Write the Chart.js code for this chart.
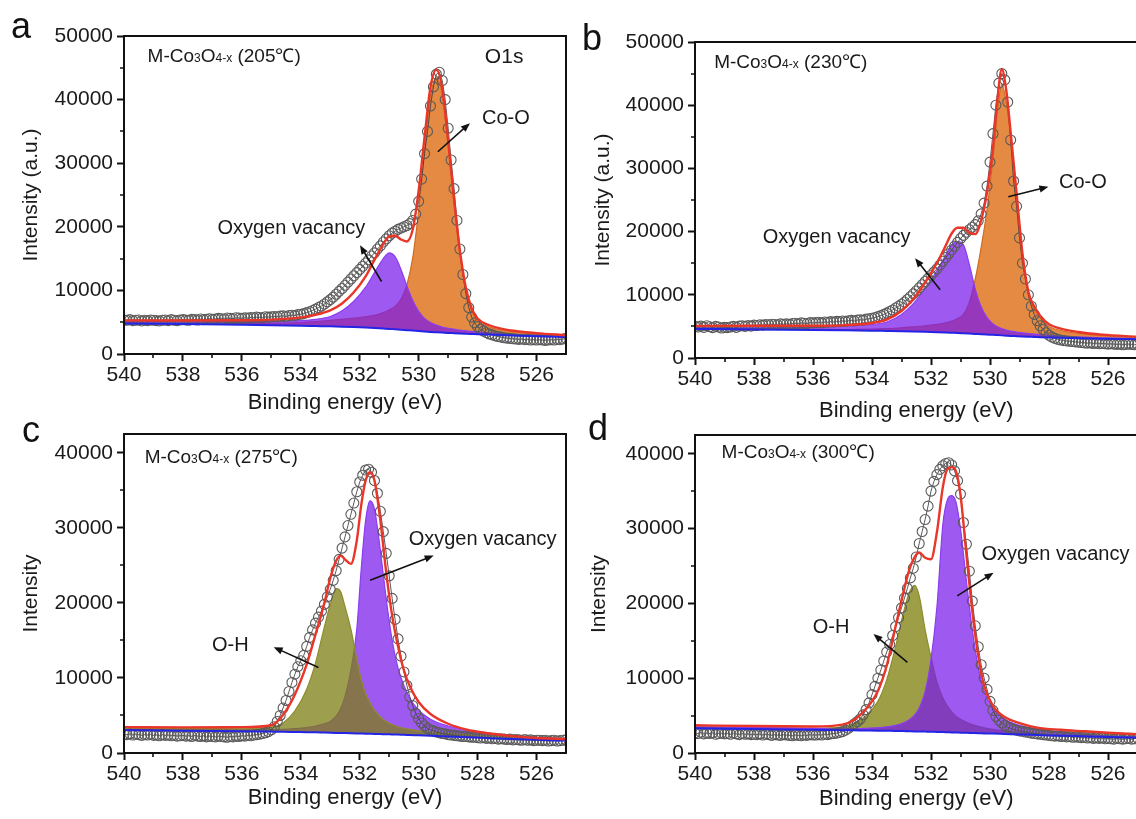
<!DOCTYPE html>
<html>
<head>
<meta charset="utf-8">
<script src="https://cdn.jsdelivr.net/npm/chart.js@4.4.1/dist/chart.umd.min.js"></script>
<style>
  html, body { margin: 0; padding: 0; background: #fff; width: 1136px; height: 819px; overflow: hidden; }
  canvas { position: absolute; }
</style>
</head>
<body>
<canvas id="panelA" width="568" height="416" style="left:0;top:0"></canvas>
<canvas id="panelB" width="572" height="424" style="left:568px;top:0"></canvas>
<canvas id="panelC" width="568" height="407" style="left:0;top:412px"></canvas>
<canvas id="panelD" width="572" height="407" style="left:568px;top:412px"></canvas>
<script>
const FONT = "'Liberation Sans', Arial, Helvetica, sans-serif";

// axis ticks shared by all four O1s panels
const xTicks = [540, 538, 536, 534, 532, 530, 528, 526];
const xMinor = [539, 537, 535, 533, 531, 529, 527];
const yTicks50k = [0, 10000, 20000, 30000, 40000, 50000];
const yMinor50k = [5000, 15000, 25000, 35000, 45000];
const yTicks40k = [0, 10000, 20000, 30000, 40000];
const yMinor40k = [5000, 15000, 25000, 35000];

// measured spectra are sampled every 0.1 eV from 540 down to 525 eV
const scanEnergy = [];
for (let i = 0; i <= 150; i++) scanEnergy.push(Math.round((540 - i * 0.1) * 10) / 10);

// ---- (a) 205 C ----
const fitEnergyA = [540, 538, 536, 535, 534, 533.5, 533, 532.6, 532.2, 531.8, 531.5, 531.2, 531.0, 530.8, 530.6, 530.4, 530.2, 530.0, 529.8, 529.6, 529.4, 529.2, 529.0, 528.8, 528.6, 528.4, 528.2, 528.0, 527.6, 527.2, 526.6, 526, 525];
const backgroundA = [4800, 4700, 4600, 4530, 4450, 4400, 4350, 4300, 4230, 4150, 4080, 4000, 3950, 3880, 3820, 3750, 3680, 3600, 3530, 3470, 3420, 3370, 3320, 3280, 3240, 3200, 3160, 3120, 3050, 2980, 2880, 2790, 2650];
const cooA = [4880, 4820, 4800, 4830, 4950, 5100, 5300, 5450, 5630, 5850, 6080, 6500, 6950, 7480, 8620, 10850, 15180, 22600, 32030, 40470, 43420, 40870, 32820, 23780, 15740, 10000, 6760, 5220, 4250, 3780, 3380, 3140, 2850];
const vacancyA = [5200, 5150, 5100, 5100, 5250, 5450, 5900, 6800, 8300, 10500, 12800, 15000, 15900, 15300, 13300, 10700, 8400, 6700, 5600, 4950, 4550, 4250, 4050, 3900, 3750, 3650, 3550, 3470, 3320, 3200, 3050, 2930, 2750];
const envelopeA = [5280, 5270, 5300, 5400, 5750, 6150, 6850, 7950, 9700, 12200, 14800, 17300, 18500, 18600, 18000, 17700, 19600, 25700, 34100, 41950, 44700, 41750, 33550, 24400, 16250, 10450, 7150, 5570, 4520, 4000, 3550, 3280, 2950];
const rawA = [
  5350, 5300, 5400, 5250, 5300, 5350, 5200, 5300, 5250, 5350, 5300,
  5250, 5200, 5300, 5350, 5250, 5400, 5300, 5250, 5350, 5400,
  5350, 5300, 5450, 5400, 5350, 5500, 5400, 5450, 5550, 5450,
  5500, 5600, 5550, 5500, 5650, 5600, 5550, 5700, 5650, 5600,
  5700, 5650, 5750, 5700, 5800, 5750, 5700, 5850, 5800, 5850,
  5900, 5850, 5950, 6000, 5900, 6050, 6100, 6050, 6200, 6250,
  6350, 6500, 6650, 6850, 7050, 7300, 7550, 7850, 8200, 8550,
  8950, 9400, 9850, 10300, 10800, 11300, 11800, 12300, 12800, 13300,
  13800, 14300, 14800, 15400, 15900, 16500, 17000, 17600, 18100, 18600,
  19000, 19300, 19600, 19800, 20000, 20200, 20500, 21000, 22000, 24000,
  27500, 31500, 35000, 39000, 42000, 44000, 44300, 43000, 40000, 35500,
  30500, 26000, 21000, 16500, 12500, 9500, 7300, 5800, 4900, 4300,
  3900, 3600, 3350, 3150, 3000, 2850, 2750, 2650, 2550, 2500,
  2450, 2400, 2350, 2300, 2350, 2250, 2300, 2200, 2250, 2200,
  2250, 2200, 2150, 2200, 2250, 2200, 2300, 2250, 2350, 2450
];

// ---- (b) 230 C ----
const fitEnergyB = [540, 538, 536, 535, 534, 533.5, 533, 532.6, 532.2, 531.8, 531.5, 531.3, 531.1, 530.9, 530.7, 530.5, 530.3, 530.1, 529.9, 529.75, 529.6, 529.45, 529.3, 529.1, 528.9, 528.7, 528.5, 528.3, 528.0, 527.6, 527.0, 526.2, 525];
const backgroundB = [4600, 4520, 4430, 4380, 4320, 4280, 4240, 4200, 4150, 4090, 4040, 4000, 3960, 3910, 3860, 3810, 3760, 3710, 3660, 3620, 3580, 3540, 3500, 3460, 3420, 3380, 3340, 3300, 3250, 3190, 3120, 3050, 2980];
const cooB = [4680, 4620, 4530, 4500, 4560, 4650, 4780, 4930, 5100, 5320, 5570, 5850, 6250, 6900, 8800, 12500, 17500, 23500, 31500, 38800, 43300, 40500, 35000, 25500, 16000, 10000, 7700, 6300, 5000, 4350, 3900, 3550, 3300];
const vacancyB = [5000, 5000, 5000, 5050, 5300, 5700, 6900, 8600, 11000, 13800, 16300, 17900, 18400, 17900, 14800, 10900, 8100, 6400, 5400, 4950, 4650, 4420, 4250, 4100, 3970, 3870, 3780, 3700, 3600, 3480, 3340, 3200, 3050];
const envelopeB = [5080, 5100, 5100, 5170, 5540, 6070, 7440, 9330, 11950, 15030, 17800, 19700, 20600, 20600, 19800, 19600, 21800, 26200, 33240, 40830, 45700, 42400, 35750, 26140, 16550, 10490, 8140, 6700, 5350, 4640, 4120, 3700, 3370];
const rawB = [
  5000, 4900, 5050, 4850, 5100, 4950, 4800, 5000, 4900, 4750, 4850,
  4800, 4900, 5000, 4850, 5050, 5100, 5000, 5150, 5050, 5200,
  5150, 5250, 5200, 5300, 5250, 5350, 5300, 5250, 5400, 5350,
  5400, 5350, 5450, 5500, 5400, 5550, 5500, 5450, 5600, 5550,
  5600, 5650, 5550, 5700, 5650, 5750, 5700, 5800, 5750, 5850,
  5800, 5900, 5950, 5850, 6000, 6050, 6000, 6150, 6200, 6300,
  6400, 6550, 6700, 6900, 7100, 7350, 7600, 7900, 8200, 8500,
  8850, 9250, 9700, 10150, 10600, 11100, 11600, 12100, 12600, 13100,
  13600, 14100, 14700, 15300, 15900, 16500, 17100, 17700, 18300, 18900,
  19400, 19900, 20300, 20700, 21100, 21700, 22800, 24500, 27200, 31000,
  35500, 40000, 43500, 45000, 44000, 40500, 34500, 28000, 24000, 19000,
  15000, 12500, 10000, 8200, 6900, 5900, 5100, 4500, 4000, 3600,
  3300, 3100, 2950, 2850, 2750, 2700, 2650, 2600, 2550, 2500,
  2450, 2400, 2350, 2400, 2300, 2350, 2250, 2300, 2250, 2200,
  2250, 2200, 2150, 2200, 2100, 2150, 2200, 2150, 2100, 2150
];

// ---- (c) 275 C ----
const fitEnergyC = [540, 538, 536, 535, 534.6, 534.2, 533.8, 533.5, 533.2, 533.0, 532.8, 532.65, 532.5, 532.3, 532.1, 531.95, 531.8, 531.65, 531.5, 531.3, 531.1, 530.9, 530.7, 530.5, 530.3, 530.0, 529.6, 529.0, 528.4, 527.6, 526.8, 526, 525];
const backgroundC = [3050, 2980, 2900, 2850, 2830, 2800, 2770, 2750, 2720, 2700, 2680, 2665, 2650, 2630, 2610, 2595, 2580, 2560, 2540, 2520, 2500, 2470, 2450, 2420, 2400, 2350, 2300, 2200, 2100, 1980, 1860, 1750, 1650];
const hydroxylC = [3300, 3250, 3300, 3450, 4000, 5600, 8500, 12000, 16800, 19800, 21900, 21500, 19500, 16500, 12500, 9800, 7900, 6700, 5700, 4800, 4200, 3800, 3500, 3300, 3150, 2950, 2800, 2600, 2450, 2280, 2130, 2000, 1870];
const vacancyC = [3200, 3150, 3100, 3100, 3150, 3250, 3400, 3600, 3900, 4200, 4900, 5900, 7500, 11000, 16500, 24500, 31000, 33600, 32500, 27000, 20500, 15000, 11300, 9000, 7300, 5700, 4500, 3600, 3100, 2650, 2300, 2050, 1850];
const envelopeC = [3450, 3420, 3450, 3700, 5100, 7800, 11800, 15800, 20000, 23300, 25600, 26300, 25800, 25200, 28300, 33000, 36300, 37400, 36300, 31000, 24000, 18300, 14200, 11000, 8900, 6800, 5200, 3900, 3150, 2600, 2250, 2000, 1870];
const rawC = [
  2500, 2450, 2550, 2400, 2500, 2450, 2350, 2450, 2400, 2500, 2350,
  2400, 2300, 2450, 2350, 2400, 2300, 2350, 2250, 2300, 2350,
  2250, 2300, 2200, 2350, 2250, 2200, 2300, 2150, 2250, 2200,
  2150, 2250, 2200, 2150, 2100, 2200, 2150, 2250, 2200, 2300,
  2250, 2350, 2300, 2400, 2450, 2500, 2600, 2700, 2850, 3100,
  3500, 4200, 5000, 6000, 7000, 8200, 9400, 10500, 11500, 12300,
  13000, 14200, 15400, 16400, 17300, 18100, 18900, 19800, 20800, 21800,
  23000, 24300, 25800, 27300, 28800, 30300, 31800, 33300, 34800, 36100,
  37000, 37700, 37800, 37400, 36300, 34600, 32200, 29500, 26600, 23600,
  20600, 17800, 15200, 12900, 10800, 9000, 7500, 6300, 5300, 4600,
  4000, 3600, 3300, 3100, 2950, 2800, 2700, 2600, 2550, 2450,
  2400, 2350, 2300, 2250, 2200, 2200, 2150, 2100, 2100, 2050,
  2000, 2050, 1950, 2000, 1900, 1950, 1850, 1900, 1850, 1800,
  1850, 1750, 1800, 1750, 1700, 1800, 1700, 1750, 1650, 1700,
  1700, 1650, 1700, 1600, 1650, 1700, 1600, 1650, 1700, 1750
];

// ---- (d) 300 C ----
const fitEnergyD = [540, 538, 536, 535, 534.6, 534.2, 533.8, 533.5, 533.2, 532.95, 532.75, 532.55, 532.4, 532.2, 532.0, 531.8, 531.6, 531.45, 531.3, 531.15, 531.0, 530.8, 530.6, 530.4, 530.2, 529.9, 529.5, 529.0, 528.4, 527.6, 526.8, 526, 525];
const backgroundD = [3300, 3200, 3100, 3050, 3030, 3010, 2990, 2970, 2950, 2930, 2910, 2890, 2880, 2860, 2840, 2810, 2790, 2770, 2750, 2730, 2720, 2690, 2670, 2650, 2620, 2590, 2540, 2480, 2400, 2300, 2220, 2150, 2050];
const hydroxylD = [3450, 3350, 3300, 3500, 4000, 5000, 6900, 9800, 14200, 18500, 21300, 22400, 21000, 16500, 12800, 9500, 7400, 6300, 5500, 4900, 4500, 4100, 3800, 3550, 3350, 3150, 2950, 2750, 2600, 2430, 2320, 2230, 2130];
const vacancyD = [3500, 3400, 3300, 3250, 3260, 3300, 3380, 3500, 3700, 4000, 4400, 5100, 6000, 8200, 12500, 19500, 30500, 33800, 34400, 33500, 30000, 23000, 16500, 11500, 8300, 6000, 4500, 3700, 3200, 2800, 2500, 2300, 2150];
const envelopeD = [3700, 3600, 3550, 3800, 4450, 5900, 8300, 11700, 16900, 21200, 24300, 26200, 26800, 26100, 25900, 29500, 35500, 37900, 38200, 37600, 34500, 26500, 19000, 13000, 9000, 6300, 4800, 4000, 3400, 3100, 2900, 2700, 2500];
const rawD = [
  2700, 2600, 2750, 2550, 2650, 2600, 2700, 2500, 2600, 2650, 2550,
  2600, 2500, 2650, 2550, 2450, 2600, 2500, 2550, 2450, 2500,
  2450, 2550, 2400, 2500, 2450, 2350, 2450, 2400, 2350, 2450,
  2400, 2350, 2300, 2400, 2350, 2300, 2400, 2350, 2450, 2400,
  2400, 2450, 2400, 2500, 2450, 2550, 2600, 2650, 2750, 2850,
  3050, 3300, 3600, 3900, 4200, 4550, 5100, 5800, 6700, 7800,
  8900, 10000, 11100, 12300, 13500, 14500, 15700, 16900, 18100, 19400,
  20700, 22000, 23400, 24700, 26200, 28000, 29600, 31200, 33000, 35000,
  36300, 37200, 37900, 38400, 38700, 38800, 38500, 37700, 36400, 34600,
  30800, 27900, 24300, 20300, 17000, 14200, 11800, 10000, 8500, 6900,
  5700, 4900, 4400, 4000, 3700, 3450, 3300, 3150, 3050, 2950,
  2900, 2800, 2750, 2650, 2600, 2550, 2500, 2450, 2400, 2350,
  2300, 2250, 2300, 2200, 2250, 2150, 2200, 2100, 2150, 2100,
  2050, 2100, 2000, 2050, 1950, 2000, 1950, 2000, 1900, 1950,
  1900, 1850, 1950, 1900, 1850, 1900, 1950, 1850, 1900, 2000
];

const ORANGE = { fill: 'rgba(226,125,45,0.9)', line: '#d06c22' };
const PURPLE = { fill: 'rgba(120,25,235,0.72)', line: '#8a3df2' };
const OLIVE_TOP = { fill: 'rgba(125,125,20,0.75)', line: '#8c8c2c' };
const OLIVE = { fill: 'rgba(150,150,55,0.92)', line: '#8c8c2c' };

function drawArrow(ctx, x1, y1, x2, y2) {
  const ang = Math.atan2(y2 - y1, x2 - x1);
  const head = 9, half = 3.6;
  ctx.save();
  ctx.strokeStyle = '#111';
  ctx.fillStyle = '#111';
  ctx.lineWidth = 1.6;
  ctx.beginPath();
  ctx.moveTo(x1, y1);
  ctx.lineTo(x2 - Math.cos(ang) * head * 0.8, y2 - Math.sin(ang) * head * 0.8);
  ctx.stroke();
  ctx.beginPath();
  ctx.moveTo(x2, y2);
  ctx.lineTo(x2 - head * Math.cos(ang) + half * Math.sin(ang), y2 - head * Math.sin(ang) - half * Math.cos(ang));
  ctx.lineTo(x2 - head * Math.cos(ang) - half * Math.sin(ang), y2 - head * Math.sin(ang) + half * Math.cos(ang));
  ctx.closePath();
  ctx.fill();
  ctx.restore();
}

// sample name with sub-scripted stoichiometry, e.g. M-Co3O4-x (205 C)
function drawSample(ctx, x, y, temp) {
  const parts = [['M-Co', 19, 0], ['3', 12, 2], ['O', 19, 0], ['4-x', 12, 2], [' (' + temp + '\u2103)', 19, 0]];
  ctx.save();
  ctx.fillStyle = '#1a1a1a';
  ctx.textBaseline = 'middle';
  ctx.textAlign = 'left';
  for (const [txt, size, dy] of parts) {
    ctx.font = size + 'px ' + FONT;
    ctx.fillText(txt, x, y + dy);
    x += ctx.measureText(txt).width;
  }
  ctx.restore();
}

function decorations(p) {
  return {
    id: 'decor',
    afterDraw(chart) {
      const { ctx, chartArea: a, scales: { x, y } } = chart;
      ctx.save();
      // box frame and minor ticks
      ctx.strokeStyle = '#111';
      ctx.lineWidth = 2;
      ctx.strokeRect(a.left, a.top, a.right - a.left, a.bottom - a.top);
      ctx.lineWidth = 1.6;
      ctx.beginPath();
      xMinor.forEach(e => {
        const px = Math.round(x.getPixelForValue(e));
        ctx.moveTo(px, a.bottom);
        ctx.lineTo(px, a.bottom + 4);
      });
      p.yMinor.forEach(v => {
        const py = Math.round(y.getPixelForValue(v));
        ctx.moveTo(a.left, py);
        ctx.lineTo(a.left - 4, py);
      });
      ctx.stroke();

      // panel letter
      ctx.fillStyle = '#111';
      ctx.font = '36px ' + FONT;
      ctx.textAlign = 'left';
      ctx.textBaseline = 'alphabetic';
      ctx.fillText(p.letter, p.letterPos[0], p.letterPos[1]);

      drawSample(ctx, x.getPixelForValue(p.sample[0]), y.getPixelForValue(p.sample[1]), p.sample[2]);

      ctx.fillStyle = '#1a1a1a';
      ctx.textBaseline = 'middle';
      p.labels.forEach(l => {
        ctx.font = (l.size || 20) + 'px ' + FONT;
        ctx.textAlign = l.align;
        ctx.fillText(l.text, x.getPixelForValue(l.at[0]), y.getPixelForValue(l.at[1]));
      });
      p.arrows.forEach(([from, to]) => {
        drawArrow(ctx, x.getPixelForValue(from[0]), y.getPixelForValue(from[1]),
          x.getPixelForValue(to[0]), y.getPixelForValue(to[1]));
      });
      ctx.restore();
    }
  };
}

function makePanel(id, p) {
  const pts = (es, vs) => es.map((e, i) => ({ x: e, y: vs[i] }));
  const datasets = [
    { label: 'Envelope', data: pts(p.fitE, p.envelope), borderColor: '#ea3529', borderWidth: 2.4,
      pointRadius: 0, fill: false, cubicInterpolationMode: 'monotone', order: 0 },
    { label: 'Background', data: pts(p.fitE, p.background), borderColor: '#2424e6', borderWidth: 2,
      pointRadius: 0, fill: false, cubicInterpolationMode: 'monotone', order: 1 },
    { label: 'Raw', data: pts(scanEnergy, p.raw), borderColor: 'rgba(60,60,60,0.85)', borderWidth: 1,
      pointRadius: 5, pointBorderWidth: 1.1, pointBorderColor: '#5a5a5a',
      pointBackgroundColor: 'rgba(255,255,255,0)', fill: false, tension: 0, order: 2 }
  ];
  p.peaks.forEach(pk => datasets.push({
    label: pk.name, data: pts(p.fitE, pk.values), borderColor: pk.style.line, borderWidth: 1.2,
    backgroundColor: pk.style.fill, fill: 1, pointRadius: 0, cubicInterpolationMode: 'monotone', order: pk.order
  }));

  const tickFont = { family: FONT, size: 21 };
  return new Chart(document.getElementById(id), {
    type: 'line',
    data: { datasets },
    options: {
      responsive: false,
      animation: false,
      devicePixelRatio: 1,
      events: [],
      layout: { autoPadding: false, padding: { left: 0, top: p.padTop, right: p.padRight, bottom: 0 } },
      plugins: { legend: { display: false }, tooltip: { enabled: false } },
      scales: {
        x: {
          type: 'linear', reverse: true, min: 525, max: 540,
          afterBuildTicks: s => { s.ticks = xTicks.map(v => ({ value: v })); },
          afterFit: s => { s.height = p.xHeight; },
          border: { display: false },
          grid: { drawOnChartArea: false, drawTicks: true, tickLength: 7, tickWidth: 2, tickColor: '#111' },
          ticks: { font: tickFont, color: '#1a1a1a', padding: 2, maxRotation: 0, autoSkip: false, callback: v => String(v) },
          title: { display: true, text: 'Binding energy (eV)', color: '#1a1a1a',
                   font: { family: FONT, size: 22 }, padding: { top: 0, bottom: p.xTitlePad } }
        },
        y: {
          type: 'linear', min: 0, max: p.yMax,
          afterBuildTicks: s => { s.ticks = p.yTicks.map(v => ({ value: v })); },
          afterFit: s => { s.width = p.yWidth; },
          border: { display: false },
          grid: { drawOnChartArea: false, drawTicks: true, tickLength: 7, tickWidth: 2, tickColor: '#111' },
          ticks: { font: tickFont, color: '#1a1a1a', padding: 4, autoSkip: false, callback: v => String(v) },
          title: { display: true, text: p.yTitle, color: '#1a1a1a',
                   font: { family: FONT, size: 21 }, padding: { top: p.yTitlePad, bottom: 0 } }
        }
      }
    },
    plugins: [decorations(p)]
  });
}

makePanel('panelA', {
  fitE: fitEnergyA, background: backgroundA, envelope: envelopeA, raw: rawA,
  peaks: [
    { name: 'Co-O', values: cooA, style: ORANGE, order: 4 },
    { name: 'Oxygen vacancy', values: vacancyA, style: PURPLE, order: 3 }
  ],
  yMax: 50000, yTicks: yTicks50k, yMinor: yMinor50k,
  padTop: 36, padRight: 2, yWidth: 124, xHeight: 62, xTitlePad: 0, yTitlePad: 19,
  yTitle: 'Intensity (a.u.)', letter: 'a', letterPos: [11, 38],
  sample: [539.2, 46700, '205'],
  labels: [
    { text: 'O1s', at: [527.1, 46700], align: 'center', size: 21 },
    { text: 'Co-O', at: [527.85, 37100], align: 'left' },
    { text: 'Oxygen vacancy', at: [534.32, 19800], align: 'center' }
  ],
  arrows: [[[529.35, 31800], [528.26, 36300]], [[531.26, 11400], [531.99, 17100]]]
});

makePanel('panelB', {
  fitE: fitEnergyB, background: backgroundB, envelope: envelopeB, raw: rawB,
  peaks: [
    { name: 'Co-O', values: cooB, style: ORANGE, order: 4 },
    { name: 'Oxygen vacancy', values: vacancyB, style: PURPLE, order: 3 }
  ],
  yMax: 50000, yTicks: yTicks50k, yMinor: yMinor50k,
  padTop: 42, padRight: 2.5, yWidth: 127, xHeight: 66, xTitlePad: 0, yTitlePad: 23,
  yTitle: 'Intensity (a.u.)', letter: 'b', letterPos: [14, 50],
  sample: [539.35, 46700, '230'],
  labels: [
    { text: 'Co-O', at: [527.66, 27800], align: 'left' },
    { text: 'Oxygen vacancy', at: [535.2, 19000], align: 'center' }
  ],
  arrows: [[[529.38, 25500], [528.02, 27100]], [[531.69, 10800], [532.54, 15800]]]
});

makePanel('panelC', {
  fitE: fitEnergyC, background: backgroundC, envelope: envelopeC, raw: rawC,
  peaks: [
    { name: 'Oxygen vacancy', values: vacancyC, style: PURPLE, order: 4 },
    { name: 'O-H', values: hydroxylC, style: OLIVE_TOP, order: 3 }
  ],
  yMax: 42500, yTicks: yTicks40k, yMinor: yMinor40k,
  padTop: 22, padRight: 2, yWidth: 124, xHeight: 66, xTitlePad: 8, yTitlePad: 19,
  yTitle: 'Intensity', letter: 'c', letterPos: [22, 30],
  sample: [539.3, 39400, '275'],
  labels: [
    { text: 'Oxygen vacancy', at: [527.83, 28500], align: 'center' },
    { text: 'O-H', at: [536.39, 14300], align: 'center' }
  ],
  arrows: [[[531.65, 23000], [529.49, 26300]], [[533.4, 11400], [534.92, 14100]]]
});

makePanel('panelD', {
  fitE: fitEnergyD, background: backgroundD, envelope: envelopeD, raw: rawD,
  peaks: [
    { name: 'O-H', values: hydroxylD, style: OLIVE, order: 4 },
    { name: 'Oxygen vacancy', values: vacancyD, style: PURPLE, order: 3 }
  ],
  yMax: 42500, yTicks: yTicks40k, yMinor: yMinor40k,
  padTop: 23, padRight: 2.5, yWidth: 127, xHeight: 66, xTitlePad: 7, yTitlePad: 19,
  yTitle: 'Intensity', letter: 'd', letterPos: [20, 28],
  sample: [539.1, 40100, '300'],
  labels: [
    { text: 'Oxygen vacancy', at: [527.78, 26500], align: 'center' },
    { text: 'O-H', at: [535.39, 16800], align: 'center' }
  ],
  arrows: [[[531.11, 21000], [529.88, 24100]], [[532.8, 12100], [533.95, 15900]]]
});
</script>
</body>
</html>
